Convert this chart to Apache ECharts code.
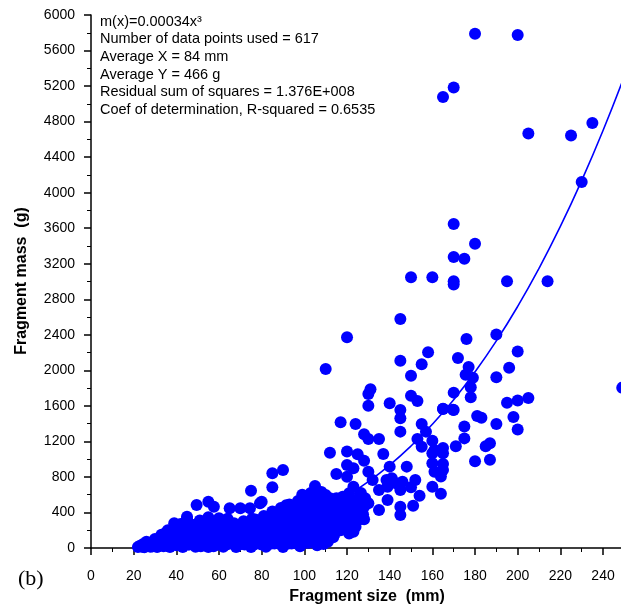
<!DOCTYPE html>
<html><head><meta charset="utf-8">
<script src="https://cdn.jsdelivr.net/npm/echarts@6/dist/echarts.min.js"></script>
<style>html,body{margin:0;padding:0;background:#fff}#c{width:621px;height:604px}</style>
</head><body><div id="c"></div>
<script>
// ---- data (Fragment size mm, Fragment mass g) ----
const clusterPoints = [
 [22,10],[23,25],[24,15],
 [25,8],[26,30],[27,50],
 [28,15],[29,60],[30,100],
 [31,10],[32,70],[33,150],
 [34,20],[35,90],[35,170],[36,200],
 [37,10],[38,80],[38,160],[39,240],[39,278],
 [40,30],[41,110],[41,190],[42,270],
 [43,10],[44,90],[44,170],[45,250],[45,330],[45,352],
 [46,40],[47,120],[47,200],[48,260],
 [49,15],[50,95],[50,175],[51,240],[51,310],[49.5,484],
 [52,50],[53,130],[53,210],[54,270],
 [55,10],[56,90],[56,170],[57,250],[55,345],[55,521],[57.6,465],
 [59,40],[59,120],[60,200],[60,270],[60,335],
 [62,15],[62,95],[63,175],[63,255],[64,330],
 [65,50],[66,130],[66,210],[67,280],[65,447],
 [68,10],[69,90],[69,170],[70,250],[70,447],
 [72,40],[72,120],[73,200],[73,280],[74.5,447],[75,645],
 [75,10],[76,90],[76,170],[77,250],[77,320],
 [79,50],[79,130],[80,210],[80,290],[81,360],[80,521],[79.2,503],
 [82,15],[83,95],[83,175],[84,255],[84,335],[85,410],
 [86,50],[87,130],[87,210],[88,290],[88,370],[89,450],
 [90,10],[91,90],[91,170],[92,250],[92,330],[93,410],[93,490],
 [94,50],[95,130],[95,210],[96,290],[96,370],[97,450],[97,530],
 [98,20],[99,100],[99,180],[100,260],[100,340],[101,420],[101,500],[99,600],
 [102,60],[103,140],[103,220],[104,300],[104,380],[105,460],[105,540],[103,620],
 [106,30],[107,110],[107,190],[108,270],[108,350],[109,430],[109,510],[108,630],
 [110,90],[111,170],[111,250],[112,330],[112,410],[113,490],[112,560],
 [114,150],[115,230],[115,310],[116,390],[116,470],
 [117,200],[118,280],[118,360],[119,440],
 [120,250],[121,330],[121,410],[122,500],
 [123,280],[124,360],[125,540],
 [126,400],[127,330]
];
const clusterFill = [
 [24.5,45],[27.5,20],[30.5,55],[33.5,40],[33.5,110],[36.5,50],[36.5,130],[39.5,45],[39.5,125],[39.5,200],
 [42.5,50],[42.5,130],[42.5,210],[45.5,40],[45.5,120],[45.5,200],[45.5,285],[48.5,60],[48.5,140],[48.5,220],
 [51.5,20],[51.5,100],[51.5,180],[54.5,60],[54.5,140],[54.5,220],[54.5,300],[57.5,20],[57.5,100],[57.5,180],
 [57.5,290],[60.5,60],[60.5,140],[61.5,230],[63.5,40],[63.5,120],[64.5,210],[64.5,290],[66.5,60],[67.5,160],
 [67.5,240],[69.5,40],[70.5,130],[70.5,210],[71.5,300],[73.5,80],[74.5,160],[74.5,240],[75.5,330],[76.5,40],
 [77.5,130],[78.5,210],[78.5,290],[80.5,90],[80.5,170],[81.5,250],[82.5,330],[84.5,50],[84.5,130],[85.5,210],
 [85.5,290],[86.5,370],[88.5,90],[88.5,170],[89.5,250],[89.5,330],[90.5,410],[91.5,480],[92.5,50],[92.5,130],
 [93.5,210],[94.5,290],[94.5,370],[95.5,450],[96.5,90],[96.5,170],[97.5,250],[98.5,330],[98.5,410],[99.5,480],
 [100.5,60],[101.5,140],[101.5,220],[102.5,300],[102.5,380],[103.5,460],[104.5,530],[104.5,90],[105.5,170],[106.5,250],
 [106.5,330],[107.5,410],[107.5,480],[108.5,560],[109.5,70],[110.5,200],[110.5,290],[111.5,370],[111.5,450],[113.5,520],
 [113.5,120],[114.5,270],[114.5,350],[115.5,430],[116.5,520],[117.5,240],[117.5,320],[118.5,400],[119.5,300],[119.5,480],
 [120.5,370],[121.5,450],[122.5,230],[122.5,540],[124.5,300],[124.5,420],[125.5,500],[126.5,620],[127.5,380],[128.5,560],
 [26,70],[29,20],[32,30],[35,30],[38,40],[41,70],[44,40],[47,80],[50,40],[53,90],[56,40],[59,80],
 [62,60],[65,100],[68,60],[71,80],[74,60],[77,80],[80,40],[83,60],[86,100],[89,40]
];
const midPoints = [
 [150,3048],[160,3048],[145,2579],[120,2372],[110,2016],[145,2109],[158,2203],[155,2068],
 [150,1940],[131,1787],[130,1734],[130,1602],[140,1629],[150,1715],[153,1655],[145,1554],
 [145,1460],[145,1310],[170,1554],[165,1565],[117,1415],[124,1396],[128,1280],[130,1227],
 [135,1227],[155,1396],[157,1310],[153,1227],[155,1141],[160,1208],[161,1103],[112,1073],
 [120,1085],[125,1055],[128,983],[137,1058],[115,833],[120,803],[120,935],[123,897],
 [130,859],[132,766],[140,916],[148,916],[160,1066],[165,1066],[160,954],[161,859],
 [165,878],[160,690],[138.5,766],[141,785],[143,729],[139,690],[146,747],[152,766],
 [150,683],[145,653],[154,589],[151,476],[145,372],[145,465],[139,540],[135,428],
 [135,653],[130,503],[128,323],[85,841],[90,878],[85,683],[105,698],[100,560],
 [105,578],[110,597],[115,560],[123,690],[121,616],[126,578],[125,465],[128,465],
 [118,578],[117,503],[118,428],[121,391],[123,315],[124,240],[123,184],[111,71],
 [109,45],[121,163]
];
const upperPoints = [
 [180,5789],[200,5776],[165,5077],[170,5185],[205,4667],[225,4643],[235,4783],[230,4121],
 [170,3646],[180,3425],[170,3277],[175,3256],[170,3003],[170,2967],[195,3003],[214,3003],
 [176,2353],[190,2404],[172,2139],[200,2211],[177,2038],[196,2030],[175.6,1949],[179,1917],
 [190,1922],[170,1749],[178,1809],[178,1697],[165,1567],[169.7,1556],[195,1636],[200,1660],
 [205,1689],[181,1487],[183,1467],[175,1367],[190,1395],[198,1475],[200,1334],[165,1126],
 [171,1145],[175,1234],[185,1145],[187,1178],[165,945],[164,804],[164,611],[180,977],
 [187,993],[249,1805]
];
// fitted curve m(x) = 0.00034 x^3, values read at each size
const fitX = [20,30,40,50,60,70,80,90,100,110,120,130,140,150,160,170,180,190,200,210,220,230,240,250];
const fitY = [3,9,22,43,73,117,174,248,340,453,588,747,933,1148,1393,1670,1983,2332,2720,3149,3620,4137,4700,5313];
const statsLines = [
 'm(x)=0.00034x\u00B3',
 'Number of data points used = 617',
 'Average X = 84 mm',
 'Average Y = 466 g',
 'Residual sum of squares = 1.376E+008',
 'Coef of determination, R-squared = 0.6535'
];
const xTitle = 'Fragment size  (mm)';
const yTitle = 'Fragment mass  (g)';
const panelLabel = '(b)';
const xLastLabel = 240;

const FF = '"Liberation Sans", Arial, sans-serif';
const chart = echarts.init(document.getElementById('c'), null, {renderer:'canvas'});
const axisCommon = {
  type:'value',
  axisLine:{show:true, onZero:false, lineStyle:{color:'#000', width:1.5}},
  axisTick:{show:true, inside:false, length:7, lineStyle:{color:'#000', width:1.5}},
  minorTick:{show:true, splitNumber:2, length:4, lineStyle:{color:'#000', width:1}},
  splitLine:{show:false}, minorSplitLine:{show:false}
};
chart.setOption({
  animation:false,
  backgroundColor:'#fff',
  grid:{left:91, top:15, width:554.7, height:533, containLabel:false, outerBoundsMode:'none'},
  xAxis:Object.assign({}, axisCommon, {
    min:0, max:260, interval:20,
    axisLabel:{color:'#000', fontSize:14, fontFamily:FF, margin:21,
      formatter:v => v > xLastLabel ? '' : String(v)}
  }),
  yAxis:Object.assign({}, axisCommon, {
    min:0, max:6000, interval:400,
    axisLabel:{color:'#000', fontSize:14, fontFamily:FF, margin:16, formatter:v => String(v)}
  }),
  series:[
    {type:'scatter', data:clusterPoints.concat(clusterFill, midPoints, upperPoints), symbol:'circle', symbolSize:12,
      itemStyle:{color:'#0000ff', opacity:1}, z:2},
    {type:'line', data:fitX.map((x,i)=>[x, fitY[i]]), smooth:true, showSymbol:false, symbol:'none',
      lineStyle:{color:'#0000ff', width:1.6}, z:3}
  ],
  graphic:[
    {type:'text', x:100, y:13, z:10, style:{text:statsLines.join('\n'), font:'14.5px '+FF, fill:'#000', lineHeight:17.6}},
    {type:'text', x:367, y:597, z:10, style:{text:xTitle, font:'bold 16px '+FF, fill:'#000', align:'center', verticalAlign:'middle'}},
    {type:'text', x:22, y:281, rotation:Math.PI/2, z:10, style:{text:yTitle, font:'bold 16px '+FF, fill:'#000', align:'center', verticalAlign:'middle'}},
    {type:'text', x:18, y:579, z:10, style:{text:panelLabel, font:'22px "Liberation Serif", "Times New Roman", serif', fill:'#000', align:'left', verticalAlign:'middle'}}
  ]
});
</script>
</body></html>
